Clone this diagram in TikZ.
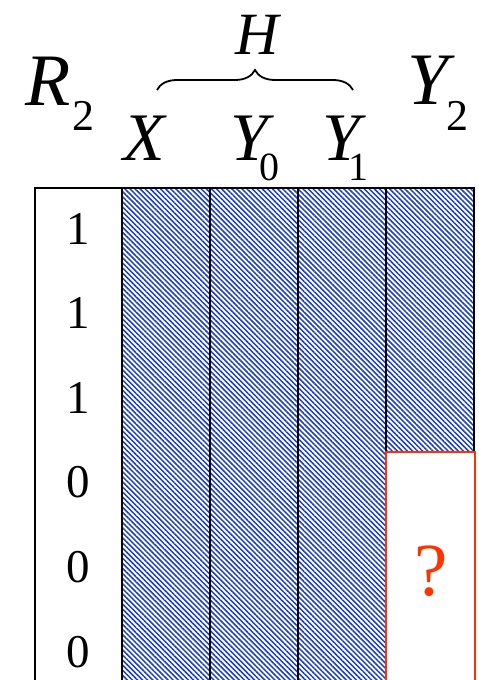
\documentclass[tikz,border=0pt]{standalone}
\usepackage{fontspec}
\setmainfont{Liberation Serif}
\usetikzlibrary{scopes,patterns.meta,decorations.pathreplacing}

\definecolor{hatchblue}{RGB}{25,60,205}
\definecolor{qred}{RGB}{255,51,0}
\newcommand\lowsub[3]{\kern#1\raisebox{#2}{\upshape #3}}

\tikzset{
  hatched/.style={pattern={Lines[angle=-45,distance=3.6pt,line width=1.5pt]},pattern color=hatchblue},
  rule/.style={line width=2.4pt},
  digit/.style={font=\fontsize{47}{47}\selectfont, anchor=base, inner sep=0pt},
  head/.style={font=\fontsize{68}{68}\selectfont\itshape, anchor=base west, inner sep=0pt},
  bighead/.style={font=\fontsize{74}{74}\selectfont\itshape, anchor=base west, inner sep=0pt}
}

\begin{document}
\begin{tikzpicture}[x=1pt,y=-1pt]
  \path[use as bounding box] (0,0) rectangle (479,680);
  \clip (0,0) rectangle (479,680);

  % shaded part of the table
  \fill[hatched] (122,188) rectangle (386,700);
  \fill[hatched] (386,188) rectangle (474,452);
  { [rule]
    \draw (35,700) -- (35,188) -- (474,188) -- (474,452);
    \foreach \x in {122,210,298,386}
      \draw (\x,188) -- (\x,700);
    \draw (386,452) -- (474,452);
  }
  \draw[qred, line width=2.6pt] (386,700) -- (386,452) -- (475,452) -- (475,700);

  % column heads
  \node[bighead] (rtwo) at (25,105) {R\lowsub{2pt}{-25pt}{\fontsize{44}{44}\selectfont 2}};
  \node[head] (xh) at (123,160) {X};
  \node[head] (yzero) at (230,160) {Y\lowsub{-9pt}{-20pt}{\fontsize{40}{40}\selectfont 0}};
  \node[head] (yone) at (322,160) {Y\lowsub{-12pt}{-20pt}{\fontsize{40}{40}\selectfont 1}};
  \node[bighead] (ytwo) at (407,104) {Y\lowsub{-2pt}{-26pt}{\fontsize{44}{44}\selectfont 2}};
  \node[font=\fontsize{60}{60}\selectfont\itshape, anchor=base west, inner sep=0pt] (hh) at (235,54) {H};

  \coordinate (bl) at (157,90);
  \coordinate (br) at (353,90);
  \draw[line width=1.8pt, decorate, decoration={brace, amplitude=20pt}] (bl) -- (br);

  % values of R2
  \foreach \v [count=\i] in {1,1,1,0,0,0}
    \node[digit] (row\i) at (78.5,{159.4+84.6*\i}) {\v};

  \node[font=\fontsize{75}{75}\selectfont, text=qred, anchor=base, inner sep=0pt] (qmark) at (431,595) {?};
\end{tikzpicture}
\end{document}
